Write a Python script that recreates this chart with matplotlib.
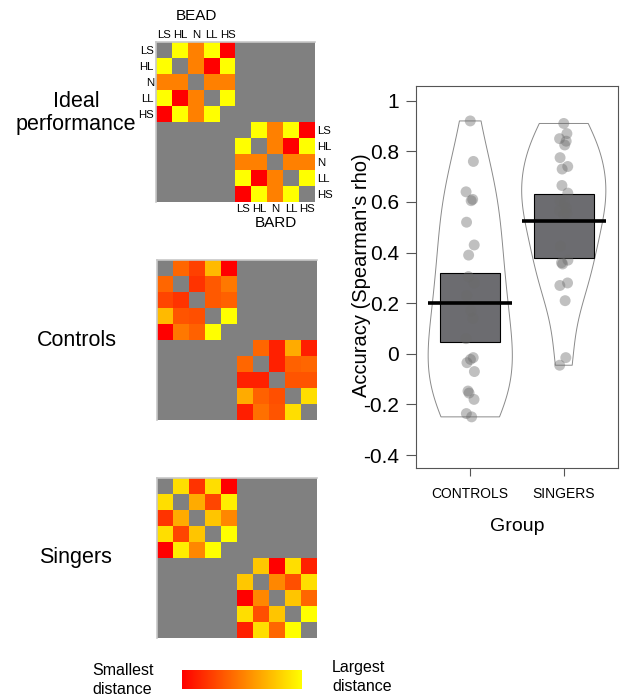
import numpy as np
import matplotlib
matplotlib.use('Agg')
import matplotlib.pyplot as plt

plt.rcParams['font.family'] = ['Liberation Sans', 'DejaVu Sans']

# ---------------- data ----------------
conditions = ['LS', 'HL', 'N', 'LL', 'HS']

# distances scaled 0 (smallest) .. 1 (largest); None = diagonal (grey)
ideal_bead = [[None, 1.0, 0.5, 1.0, 0.0],
              [1.0, None, 0.5, 0.0, 1.0],
              [0.5, 0.5, None, 0.5, 0.5],
              [1.0, 0.0, 0.5, None, 1.0],
              [0.0, 1.0, 0.5, 1.0, None]]
ideal_bard = [[None, 1.0, 0.5, 1.0, 0.0],
              [1.0, None, 0.5, 0.0, 1.0],
              [0.5, 0.5, None, 0.5, 0.5],
              [1.0, 0.0, 0.5, None, 1.0],
              [0.0, 1.0, 0.5, 1.0, None]]
controls_bead = [[None, 0.40, 0.25, 0.73, 0.00],
                 [0.40, None, 0.20, 0.35, 0.47],
                 [0.27, 0.20, None, 0.35, 0.38],
                 [0.73, 0.33, 0.31, None, 1.00],
                 [0.00, 0.47, 0.38, 1.00, None]]
controls_bard = [[None, 0.40, 0.13, 0.67, 0.12],
                 [0.40, None, 0.13, 0.38, 0.40],
                 [0.13, 0.13, None, 0.33, 0.33],
                 [0.67, 0.38, 0.31, None, 0.87],
                 [0.12, 0.44, 0.33, 0.87, None]]
singers_bead = [[None, 0.87, 0.20, 0.87, 0.00],
                [0.87, None, 0.67, 0.27, 0.93],
                [0.20, 0.67, None, 0.77, 0.53],
                [0.87, 0.27, 0.77, None, 1.00],
                [0.00, 0.93, 0.53, 1.00, None]]
singers_bard = [[None, 0.78, 0.00, 0.87, 0.13],
                [0.78, None, 0.53, 0.31, 0.87],
                [0.00, 0.53, None, 0.77, 0.40],
                [0.87, 0.31, 0.77, None, 1.00],
                [0.13, 0.87, 0.40, 1.00, None]]

groups = ['CONTROLS', 'SINGERS']
controls_rho = [0.92, 0.76, 0.64, 0.61, 0.605, 0.52, 0.43, 0.39, 0.305, 0.28,
                0.23, 0.17, 0.14, 0.06, -0.015, -0.022, -0.035, -0.07, -0.147,
                -0.155, -0.18, -0.236, -0.249]
singers_rho = [0.91, 0.87, 0.85, 0.84, 0.825, 0.775, 0.74, 0.73, 0.665, 0.635,
               0.605, 0.595, 0.575, 0.565, 0.555, 0.55, 0.425, 0.37, 0.36,
               0.355, 0.28, 0.27, 0.21, -0.015, -0.045]
group_means = [0.20, 0.525]
box_low = [0.045, 0.38]
box_high = [0.32, 0.63]

ytick_values = [-0.4, -0.2, 0.0, 0.2, 0.4, 0.6, 0.8, 1.0]
ytick_labels = ['-0.4', '-0.2', '0', '0.2', '0.4', '0.6', '0.8', '1']

# ---------------- figure ----------------
W, H = 623, 699
fig = plt.figure(figsize=(W / 100, H / 100), dpi=100)


def rect(x0, y0, x1, y1):
    return [x0 / W, 1 - y1 / H, (x1 - x0) / W, (y1 - y0) / H]


cmap = plt.get_cmap('autumn').copy()
cmap.set_bad('#808080')


def full_matrix(bead, bard):
    m = np.full((10, 10), np.nan)
    m[:5, :5] = np.array(bead, dtype=float)
    m[5:, 5:] = np.array(bard, dtype=float)
    return m


def draw_matrix(r, bead, bard):
    ax = fig.add_axes(r)
    ax.imshow(full_matrix(bead, bard), cmap=cmap, vmin=0, vmax=1,
              aspect='auto', interpolation='nearest')
    ax.set_xticks([])
    ax.set_yticks([])
    for s in ['right', 'bottom']:
        ax.spines[s].set_visible(False)
    for s in ['top', 'left']:
        ax.spines[s].set_color('#c8c8c8')
        ax.spines[s].set_linewidth(1.2)
    return ax


ax_i = draw_matrix(rect(156, 42, 315, 202), ideal_bead, ideal_bard)
ax_c = draw_matrix(rect(157, 260, 317, 420), controls_bead, controls_bard)
ax_s = draw_matrix(rect(157, 478, 317, 638), singers_bead, singers_bard)

# condition labels around the ideal matrix
lab_fs = 8.2
ax_i.set_xticks(range(5))
ax_i.set_xticklabels(conditions, fontsize=lab_fs)
ax_i.xaxis.tick_top()
ax_i.tick_params(axis='x', length=0, pad=1.5)
ax_i.set_yticks(range(5))
ax_i.set_yticklabels(conditions, fontsize=lab_fs)
ax_i.tick_params(axis='y', length=0, pad=1.5)
sec_x = ax_i.secondary_xaxis('bottom')
sec_x.set_xticks(range(5, 10))
sec_x.set_xticklabels(conditions, fontsize=lab_fs)
sec_x.tick_params(length=0, pad=1.5)
sec_x.spines['bottom'].set_visible(False)
sec_y = ax_i.secondary_yaxis('right')
sec_y.set_yticks(range(5, 10))
sec_y.set_yticklabels(conditions, fontsize=lab_fs)
sec_y.tick_params(length=0, pad=1.5)
sec_y.spines['right'].set_visible(False)

fig.text(196 / W, 1 - 16 / H, 'BEAD', ha='center', va='center', fontsize=11)
fig.text(276 / W, 1 - 223 / H, 'BARD', ha='center', va='center', fontsize=11)

fig.text(76 / W, 1 - 113 / H, 'Ideal\nperformance', ha='center', va='center',
         fontsize=15.5, linespacing=1.1)
fig.text(77 / W, 1 - 340 / H, 'Controls', ha='center', va='center', fontsize=15.5)
fig.text(75 / W, 1 - 557 / H, 'Singers', ha='center', va='center', fontsize=15.5)

# colour bar
ax_cb = fig.add_axes(rect(182, 670, 302, 689))
ax_cb.imshow(np.linspace(0, 1, 256)[None, :], cmap='autumn', aspect='auto')
ax_cb.axis('off')
fig.text(92 / W, 1 - 680 / H, 'Smallest\ndistance', ha='left', va='center',
         fontsize=11.5, linespacing=1.35)
fig.text(332 / W, 1 - 677 / H, 'Largest\ndistance', ha='left', va='center',
         fontsize=11.5, linespacing=1.35)

# ---------------- right panel ----------------
ax = fig.add_axes(rect(416, 86, 618, 468))
positions = [1, 2]
data = [controls_rho, singers_rho]

vp = ax.violinplot(data, positions=positions, widths=0.9, showextrema=False,
                   bw_method=0.55)
for b in vp['bodies']:
    b.set_facecolor('none')
    b.set_edgecolor('#8a8a8a')
    b.set_linewidth(0.7)
    b.set_alpha(1)

ax.bar(positions, np.array(box_high) - np.array(box_low), bottom=box_low,
       width=0.64, color='#6c6c70', edgecolor='black', linewidth=0.8, zorder=2)

for p, vals in zip(positions, data):
    n = len(vals)
    jit = 0.045 * np.sin(np.arange(n) * 2.3)
    ax.scatter(p + jit, vals, s=62, color='#6a6a6a', alpha=0.42,
               edgecolors='none', zorder=3)

ax.hlines(group_means, np.array(positions) - 0.45, np.array(positions) + 0.45,
          color='black', linewidth=2.6, zorder=4)

ax.set_xlim(0.42, 2.58)
ax.set_ylim(-0.451, 1.058)
ax.set_yticks(ytick_values)
ax.set_yticklabels(ytick_labels, fontsize=15)
ax.set_xticks(positions)
ax.set_xticklabels(groups, fontsize=10)
ax.tick_params(axis='y', length=7, pad=5, color='#555555')
ax.tick_params(axis='x', length=6, pad=8, color='#555555')
for s in ax.spines.values():
    s.set_color('#555555')
    s.set_linewidth(0.8)
ax.set_ylabel("Accuracy (Spearman's rho)", fontsize=14.5)
ax.yaxis.set_label_coords(-0.222, 0.505)
ax.set_xlabel('Group', fontsize=14, labelpad=12)

fig.savefig('out.png', dpi=100)
